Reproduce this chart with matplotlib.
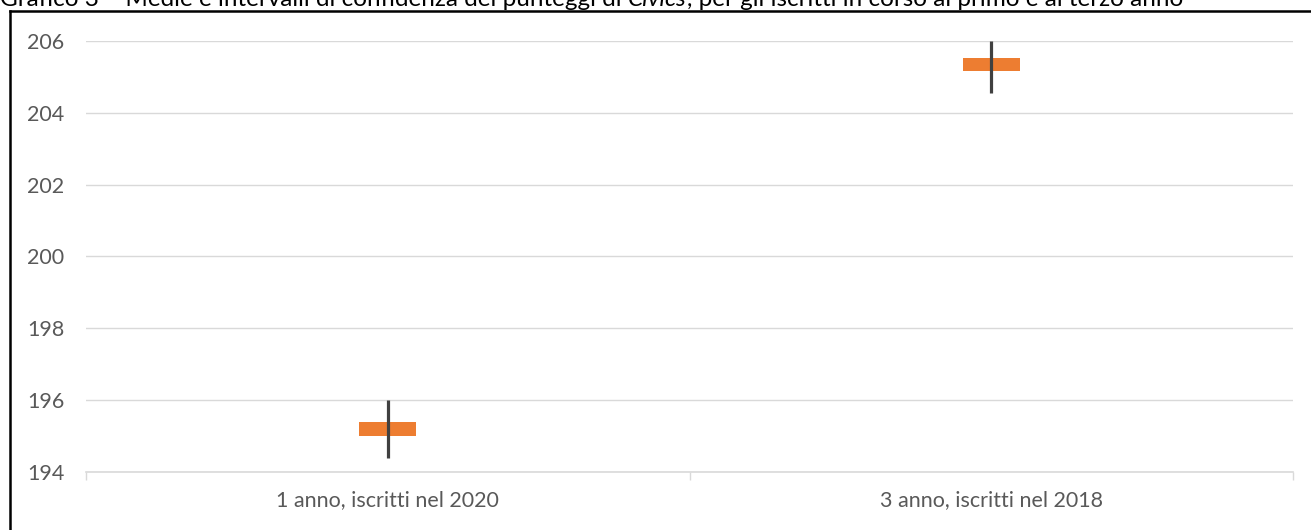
import matplotlib
matplotlib.use("Agg")
import matplotlib.pyplot as plt
from matplotlib.lines import Line2D

# Data
categories = ["1 anno, iscritti nel 2020", "3 anno, iscritti nel 2018"]
high = [196.0, 206.0]
low = [194.4, 204.55]
bar_top = [195.4, 205.53]
bar_bottom = [195.0, 205.17]
y_ticks = [194, 196, 198, 200, 202, 204, 206]

title_pre = "Grafico 3 – Medie e intervalli di confidenza dei punteggi di "
title_ital = "Civics"
title_post = ", per gli iscritti in corso al primo e al terzo anno"

W, H = 1311, 530
fig = plt.figure(figsize=(W / 100, H / 100), dpi=100)
font = "Lato"
txt_color = "#595959"
grid_color = "#d9d9d9"

ax = fig.add_axes([86 / W, 1 - 472 / H, (1293 - 86) / W, (472 - 41) / H])
x = list(range(len(categories)))

bw = 0.094
for i in x:
    ax.bar(i, bar_top[i] - bar_bottom[i], bottom=bar_bottom[i], width=bw,
           color="#ED7D31", zorder=3)
    ax.vlines(i, low[i], high[i], color="#404040", lw=2.3, zorder=4)

ax.set_xlim(-0.5, len(categories) - 0.5)
ax.set_ylim(min(y_ticks), max(y_ticks))
ax.set_yticks(y_ticks)
ax.set_yticklabels([str(t) for t in y_ticks], fontfamily=font, fontsize=15.5, color=txt_color)
ax.set_xticks(x)
ax.set_xticklabels(categories, fontfamily=font, fontsize=15.5, color=txt_color)
ax.set_xticks([i - 0.5 for i in range(len(categories) + 1)], minor=True)
ax.tick_params(axis="x", which="major", length=0, pad=13)
ax.tick_params(axis="x", which="minor", length=6, color=grid_color, width=1)
ax.tick_params(axis="y", length=0, pad=15.5)
for s in ["top", "right", "left"]:
    ax.spines[s].set_visible(False)
ax.spines["bottom"].set_color(grid_color)
ax.spines["bottom"].set_linewidth(1.2)
ax.yaxis.grid(True, color=grid_color, lw=1)
ax.set_axisbelow(True)

# Border of the figure frame (left and top)
fig.add_artist(Line2D([10 / W, 10 / W], [0, 1 - 11 / H], color="black", lw=1.8))
fig.add_artist(Line2D([10 / W, 1], [1 - 11 / H, 1 - 11 / H], color="black", lw=1.8))

# Title (partially cut off at top, as in the source)
ty = 1 - 6 / H
fs_t = 17.5
fig.canvas.draw()
r = fig.canvas.get_renderer()
t1 = fig.text(0.0, ty, title_pre, fontfamily=font, fontsize=fs_t, color="black", va="baseline", ha="left")
bb = t1.get_window_extent(r)
t2 = fig.text(bb.x1 / W, ty, title_ital, fontfamily=font, fontsize=fs_t, style="italic",
              color="black", va="baseline", ha="left")
bb2 = t2.get_window_extent(r)
fig.text(bb2.x1 / W, ty, title_post, fontfamily=font, fontsize=fs_t, color="black",
         va="baseline", ha="left")

fig.savefig("out.png", dpi=100)
